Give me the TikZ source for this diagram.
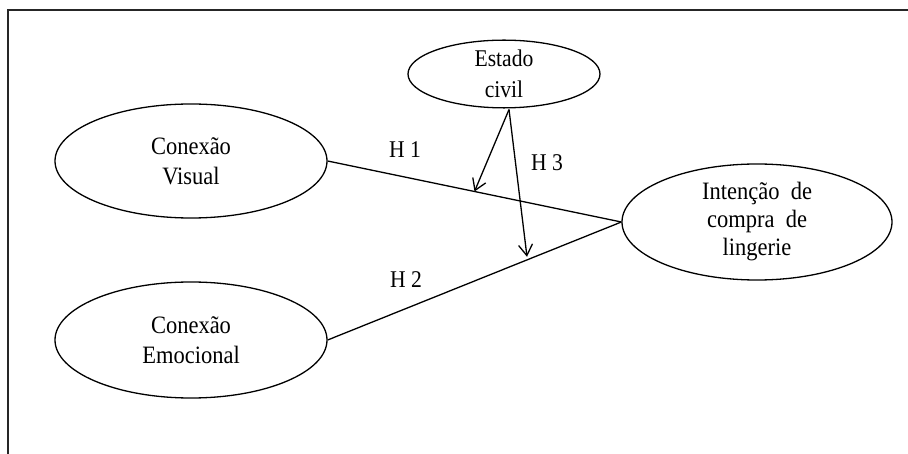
\documentclass[tikz,border=0pt]{standalone}
\usepackage{fontspec}
\setmainfont{Liberation Serif}[FakeStretch=0.9]
\usetikzlibrary{shapes.geometric,arrows.meta,calc}
\begin{document}
\begin{tikzpicture}[x=1pt,y=-1pt,
  construct/.style={draw=black, line width=1.3pt, ellipse, inner sep=0pt, align=center,
    font=\fontsize{25}{30}\selectfont},
  link/.style={draw=black, line width=1.3pt},
  modarrow/.style={draw=black, line width=1.3pt, -{Straight Barb[length=11pt,width=14pt,line width=1.3pt]}},
  hlabel/.style={font=\fontsize{24}{29}\selectfont, inner sep=0pt}]
\useasboundingbox (0,0) rectangle (908,454);
\draw[line width=2.2pt, draw=black!85] (8,454) -- (8,10) -- (908,10);

\node[construct, minimum width=272pt, minimum height=114pt] (V) at (191,161) {Conexão\\Visual};
\node[construct, minimum width=272pt, minimum height=116pt] (E) at (191,340) {Conexão\\Emocional};
\node[construct, minimum width=192pt, minimum height=58pt, font=\fontsize{24}{31}\selectfont] (S) at (504,74) {Estado\\civil};
\node[construct, minimum width=270pt, minimum height=116pt, font=\fontsize{25}{28}\selectfont] (I) at (757,222) {Intenção~~de\\compra~~de\\lingerie};

\draw[link] (V.east) -- (I.west);
\draw[link] (E.east) -- (I.west);

\coordinate (s) at ($(S.south)+(5,1)$);
\coordinate (m1) at ($(V.east)!0.5!(I.west)$);
\coordinate (m2) at ($(E.east)!0.68!(I.west)$);
\draw[modarrow] (s) -- (m1);
\draw[modarrow, shorten >=3pt] (s) -- (m2);

\node[hlabel] (h1) at (405,150) {H 1};
\node[hlabel] (h2) at (406,280) {H 2};
\node[hlabel] (h3) at (547,163) {H 3};
\end{tikzpicture}
\end{document}
